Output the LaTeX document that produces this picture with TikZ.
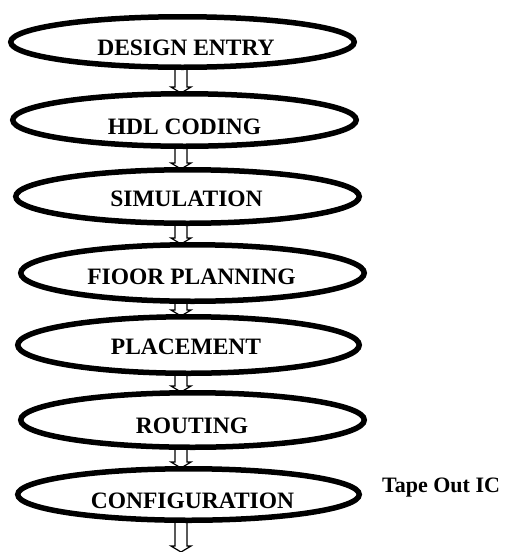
\documentclass[tikz,border=0pt]{standalone}
\usepackage{fontspec}
\setmainfont{Liberation Serif}
\usetikzlibrary{shapes.geometric,calc}
\tikzset{
  stage/.style={ellipse, draw, line width=5.5pt, inner sep=0pt, minimum width=343.5pt},
  lbl/.style={anchor=base, inner sep=0pt, font=\bfseries\fontsize{23.5}{27}\selectfont},
  tlbl/.style={anchor=base west, inner sep=0pt, font=\bfseries\fontsize{22}{26}\selectfont},
  blk/.style={draw, line width=1.2pt, fill=white, line join=miter}
}
\newcommand\blkarrow[2]{%
  \draw[blk] let \p1=(#1), \p2=(#2) in
    (\x1-6pt,\y1) -- (\x1+6pt,\y1) -- (\x1+6pt,\y2+6pt) -- (\x1+10pt,\y2+6pt)
    -- (\x1,\y2) -- (\x1-10pt,\y2+6pt) -- (\x1-6pt,\y2+6pt) -- cycle;}
\begin{document}
\begin{tikzpicture}[x=1pt,y=-1pt]
\useasboundingbox (0,0) rectangle (509,552);
% arrow end points
\coordinate (a1s) at (181,68);  \coordinate (a1e) at (181,93);
\coordinate (a2s) at (181,147); \coordinate (a2e) at (181,169);
\coordinate (a3s) at (181,223); \coordinate (a3e) at (181,244);
\coordinate (a4s) at (181,301); \coordinate (a4e) at (181,316);
\coordinate (a5s) at (181,373); \coordinate (a5e) at (181,392);
\coordinate (a6s) at (181,447); \coordinate (a6e) at (181,468);
\coordinate (a7s) at (181,520); \coordinate (end) at (181,552);
\blkarrow{a1s}{a1e}
\blkarrow{a2s}{a2e}
\blkarrow{a3s}{a3e}
\blkarrow{a4s}{a4e}
\blkarrow{a5s}{a5e}
\blkarrow{a6s}{a6e}
\blkarrow{a7s}{end}
% ellipse nodes
\node[stage, minimum height=50.5pt] (e1) at (182.5,42) {};
\node[stage, minimum height=52.5pt] (e2) at (184.5,120) {};
\node[stage, minimum height=53.5pt] (e3) at (187.5,196.5) {};
\node[stage, minimum height=56.5pt] (e4) at (192.5,273) {};
\node[stage, minimum height=56.5pt, minimum width=341.5pt] (e5) at (188.5,345) {};
\node[stage, minimum height=54.5pt] (e6) at (192.5,420) {};
\node[stage, minimum height=51.5pt, minimum width=341.5pt] (e7) at (188.5,494.5) {};
% labels
\node[lbl] (t1) at (186,55.5) {DESIGN ENTRY};
\node[lbl] (t2) at (184.5,134.5) {HDL CODING};
\node[lbl] (t3) at (186.5,206.5) {SIMULATION};
\node[lbl] (t4) at (191.5,284.5) {FIOOR PLANNING};
\node[lbl] (t5) at (186,354.5) {PLACEMENT};
\node[lbl] (t6) at (192,433.5) {ROUTING};
\node[lbl] (t7) at (192.5,508.5) {CONFIGURATION};
\node[tlbl] (tape) at (382,492) {Tape Out IC};
\end{tikzpicture}
\end{document}
